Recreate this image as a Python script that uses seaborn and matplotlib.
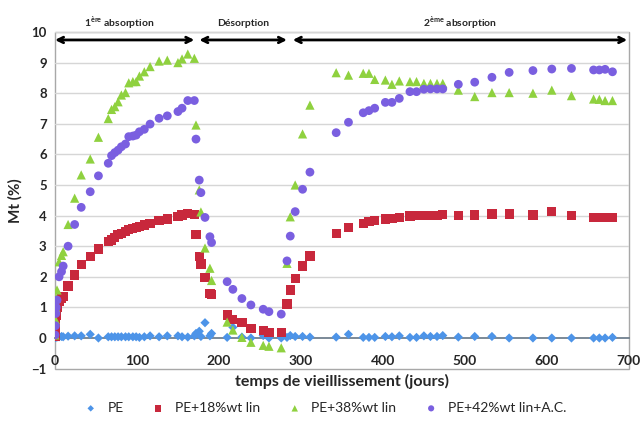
import numpy as np
import pandas as pd
import matplotlib
matplotlib.use("Agg")
import matplotlib.pyplot as plt
from matplotlib.patches import Rectangle
import seaborn as sns

# Data (Mt in %, time in days)
days = [0, 0.5, 1, 1.5, 2.5, 5, 8, 10, 16, 24, 32, 43, 53, 65, 69, 73, 77, 81, 86, 90,
        95, 99, 103, 109, 116, 127, 137, 150, 155, 162, 170,
        172, 176, 178, 183, 189, 191, 210, 217, 228, 239, 254, 261, 276,
        283, 287, 293, 302, 311, 343, 358, 376, 383, 390, 403, 411, 420, 433, 441,
        450, 458, 466, 473, 492, 512, 533, 554, 583, 606, 630, 657, 664, 671, 680]

pe = [0.02, 0.03, 0.02, 0.04, 0.03, 0.04, 0.05, 0.04, 0.06, 0.07, 0.07, 0.12, 0.0, 0.04, 0.04,
      0.04, 0.04, 0.04, 0.04, 0.04, 0.04, 0.04, 0.02, 0.04, 0.07, 0.04, 0.07, 0.07, 0.04, 0.03, 0.07,
      0.15, 0.22, 0.05, 0.50, 0.07, 0.15, 0.02, 0.35, 0.03, 0.0, 0.08, 0.0, 0.0,
      0.02, 0.08, 0.05, 0.05, 0.03, 0.03, 0.12, 0.02, 0.02, 0.02, 0.05, 0.04, 0.07, 0.02, 0.02,
      0.07, 0.05, 0.05, 0.08, 0.03, 0.05, 0.05, 0.0, 0.0, 0.0, 0.0, 0.0, 0.0, 0.0, 0.02]

pe18 = [0.05, 0.25, 0.5, 0.75, 1.0, 1.2, 1.3, 1.35, 1.7, 2.06, 2.39, 2.66, 2.91, 3.15, 3.2,
        3.29, 3.37, 3.42, 3.47, 3.55, 3.58, 3.62, 3.64, 3.69, 3.75, 3.83, 3.89, 3.96, 4.02, 4.07, 4.04,
        3.37, 2.66, 2.42, 1.97, 1.46, 1.41, 0.75, 0.61, 0.50, 0.32, 0.24, 0.19, 0.19,
        1.11, 1.57, 1.95, 2.35, 2.68, 3.42, 3.60, 3.73, 3.80, 3.83, 3.89, 3.91, 3.93, 3.99, 4.0,
        4.0, 4.01, 4.01, 4.04, 4.0, 4.02, 4.05, 4.05, 4.02, 4.13, 4.0, 3.94, 3.93, 3.94, 3.93]

pe38 = [0.1, 0.6, 1.0, 1.3, 1.57, 2.49, 2.7, 2.82, 3.71, 4.57, 5.33, 5.85, 6.56, 7.17, 7.47,
        7.56, 7.72, 7.94, 8.02, 8.34, 8.38, 8.38, 8.56, 8.70, 8.87, 9.05, 9.08, 9.0, 9.12, 9.28, 9.14,
        6.96, 4.84, 4.12, 2.94, 2.28, 1.88, 0.52, 0.26, 0.02, -0.14, -0.24, -0.27, -0.32,
        2.44, 3.96, 5.0, 6.67, 7.61, 8.67, 8.59, 8.65, 8.65, 8.45, 8.43, 8.29, 8.40, 8.38, 8.38,
        8.32, 8.32, 8.32, 8.32, 8.10, 7.89, 8.02, 8.02, 8.0, 8.10, 7.92, 7.81, 7.80, 7.76, 7.76]

pe42 = [0.1, 0.4, 0.8, 1.0, 1.24, 2.0, 2.17, 2.35, 3.0, 3.71, 4.27, 4.78, 5.30, 5.71, 5.96,
        6.06, 6.14, 6.25, 6.34, 6.58, 6.60, 6.63, 6.74, 6.82, 6.99, 7.18, 7.26, 7.40, 7.51, 7.76, 7.76,
        6.50, 5.16, 4.75, 3.94, 3.31, 3.12, 1.84, 1.59, 1.29, 1.08, 0.94, 0.86, 0.78,
        2.52, 3.33, 4.13, 4.86, 5.42, 6.71, 7.05, 7.36, 7.43, 7.51, 7.70, 7.70, 7.83, 8.05, 8.05,
        8.13, 8.14, 8.14, 8.14, 8.29, 8.36, 8.52, 8.68, 8.74, 8.79, 8.81, 8.76, 8.76, 8.78, 8.70]

series_names = ["PE", "PE+18%wt lin", "PE+38%wt lin", "PE+42%wt lin+A.C."]
series_values = [pe, pe18, pe38, pe42]

# phases shown by the arrows above the curves
phase_labels = [r"1$^{\mathbf{ère}}$ absorption", "Désorption", r"2$^{\mathbf{ème}}$ absorption"]
phase_start = [0, 176, 290]
phase_end = [170, 283, 698]

colors = ["#4d94e8", "#c8283c", "#8fd13f", "#7a5fe0"]
markers = ["D", "s", "^", "o"]
sizes = [22, 44, 44, 40]

df = pd.concat([pd.DataFrame({"jours": days, "Mt": v, "serie": n})
                for n, v in zip(series_names, series_values)], ignore_index=True)

sns.set_theme(style="white")
plt.rcParams["font.family"] = ["Lato", "DejaVu Sans"]
plt.rcParams["mathtext.fontset"] = "custom"
plt.rcParams["mathtext.bf"] = "Lato:bold"
plt.rcParams["mathtext.rm"] = "Lato"

fig = plt.figure(figsize=(6.43, 4.25), dpi=100)
ax = fig.add_axes([0.0855, 0.1327, 0.8925, 0.792])

for name, c, m, s in zip(series_names, colors, markers, sizes):
    sns.scatterplot(data=df[df["serie"] == name], x="jours", y="Mt", color=c, marker=m,
                    s=s, edgecolor="none", label=name, ax=ax, zorder=3)

ax.set_xlim(0, 700)
ax.set_ylim(-1, 10)
ax.set_yticks(range(-1, 11))
ax.set_xticks(range(0, 701, 100))
for yv in range(1, 11):
    ax.axhline(yv, color="#d6d6d6", lw=1, zorder=1)

# x axis drawn at Mt = 0, frame around the plot area
for side in ["top", "right", "left"]:
    ax.spines[side].set_visible(False)
ax.spines["bottom"].set_position(("data", 0))
ax.spines["bottom"].set_color("#6b7b8a")
ax.spines["bottom"].set_zorder(2)
ax.add_patch(Rectangle((0, 0), 1, 1, transform=ax.transAxes, fill=False,
                       ec="#a8a8a8", lw=1, clip_on=False, zorder=0))
ax.tick_params(axis="x", direction="inout", length=8, width=1, color="#6b7b8a",
               pad=8, labelsize=10)
ax.tick_params(axis="y", length=0, pad=6, labelsize=9.5)
for lab in ax.get_xticklabels() + ax.get_yticklabels():
    lab.set_fontweight("bold")

ax.set_xlabel("")
ax.set_ylabel("Mt (%)", fontsize=11, fontweight="bold", labelpad=6)
fig.text(0.532, 0.103, "temps de vieillissement (jours)", ha="center", va="center",
         fontsize=11.5, fontweight="bold")

# phase arrows and titles
for lab, x0, x1 in zip(phase_labels, phase_start, phase_end):
    ax.annotate("", xy=(x1, 9.74), xytext=(x0, 9.74),
                arrowprops=dict(arrowstyle="<->", color="black", lw=2,
                                mutation_scale=10, shrinkA=0, shrinkB=0))
    ax.text((x0 + x1) / 2 if x0 > 0 else 78, 10.27, lab, ha="center", va="center",
            fontsize=7.5, fontweight="bold", clip_on=False)

ax.get_legend().remove()
handles, labels = ax.get_legend_handles_labels()
fig.legend(handles, labels, loc="center", bbox_to_anchor=(0.5, 0.04), ncol=4,
           frameon=False, fontsize=10, handletextpad=0.2, columnspacing=1.5,
           markerscale=0.7)

fig.savefig("out.png", dpi=100)
